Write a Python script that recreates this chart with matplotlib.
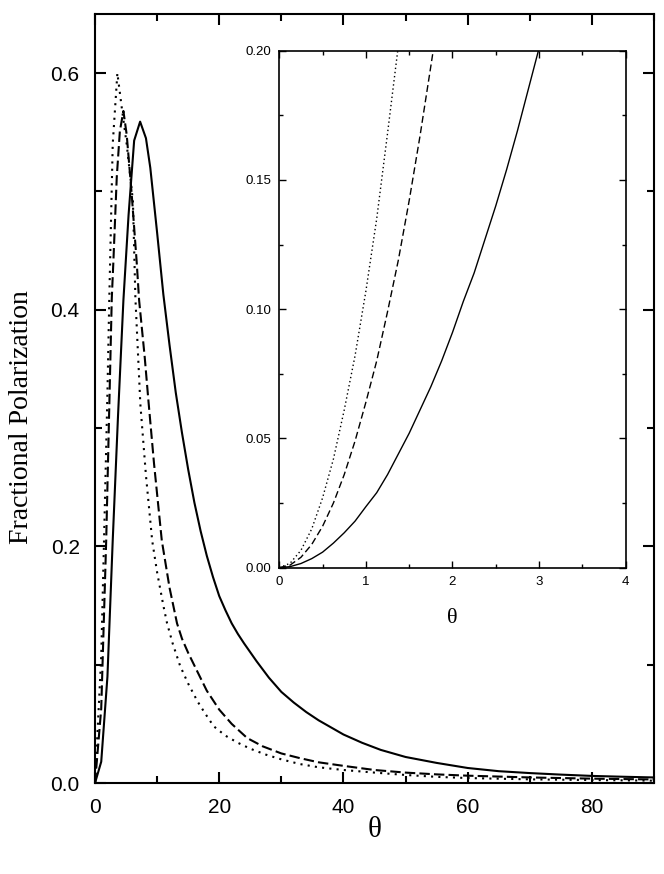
import matplotlib
matplotlib.use("Agg")
import matplotlib.pyplot as plt
from matplotlib.ticker import MultipleLocator

plt.rcParams['font.family'] = ['Liberation Sans', 'DejaVu Sans']

# main panel, curves
solid_theta = [0, 1, 2, 2.85, 3.7, 4.57, 5.4, 6.3, 7.26, 8.2, 8.9, 10, 11, 12, 13, 14, 15, 16,
               17, 18, 19, 20, 21, 22, 23, 24, 26, 28, 30, 32, 34, 36, 38, 40, 43, 46, 50, 55,
               60, 65, 70, 75, 80, 85, 90]
solid_pol = [0, 0.018, 0.09, 0.205, 0.31, 0.408, 0.48, 0.543, 0.559, 0.545, 0.52, 0.465, 0.413,
             0.37, 0.33, 0.296, 0.265, 0.237, 0.213, 0.192, 0.174, 0.158, 0.146, 0.135, 0.126,
             0.118, 0.103, 0.089, 0.077, 0.068, 0.060, 0.053, 0.047, 0.041, 0.034, 0.028, 0.022,
             0.017, 0.0127, 0.010, 0.0084, 0.0071, 0.006, 0.0053, 0.0047]

dash_theta = [0, 1, 1.8, 2.7, 2.95, 3.5, 4.0, 4.57, 5.1, 5.9, 6.7, 7.1, 8.0, 8.6, 9.5, 10.75, 12,
              13.2, 14, 15, 16.4, 18, 20, 22, 24.5, 27, 30, 33, 36, 40, 45, 50, 55, 60, 70, 80, 90]
dash_pol = [0, 0.063, 0.205, 0.41, 0.44, 0.512, 0.551, 0.568, 0.548, 0.498, 0.441, 0.408, 0.36,
            0.323, 0.27, 0.205, 0.165, 0.135, 0.122, 0.110, 0.095, 0.078, 0.062, 0.050, 0.038,
            0.031, 0.025, 0.021, 0.0175, 0.0145, 0.011, 0.0088, 0.0073, 0.0062, 0.0047, 0.0037,
            0.003]

dot_theta = [0, 1, 1.45, 2.0, 2.3, 2.85, 3.6, 4.3, 5.1, 6.1, 6.5, 7.3, 8.2, 9.2, 10, 11, 11.6,
             12.5, 13.7, 15, 16.5, 17.7, 19.1, 21, 23, 25, 27.5, 30, 33, 36, 40, 45, 50, 55, 60,
             70, 80, 90]
dot_pol = [0, 0.107, 0.205, 0.33, 0.41, 0.54, 0.60, 0.571, 0.54, 0.492, 0.41, 0.32, 0.26, 0.205,
           0.178, 0.150, 0.135, 0.118, 0.099, 0.084, 0.069, 0.059, 0.048, 0.040, 0.034, 0.029,
           0.024, 0.020, 0.016, 0.0133, 0.011, 0.0088, 0.0068, 0.0052, 0.0042, 0.0031, 0.0025,
           0.002]

# inset, small angles
in_theta = [0, 0.125, 0.25, 0.375, 0.5, 0.625, 0.75, 0.875, 1.0, 1.125, 1.25, 1.375, 1.5,
            1.625, 1.75, 1.875, 2.0, 2.125, 2.25, 2.375, 2.5, 2.625, 2.75, 2.875, 3.0]
in_solid = [0, 0.0004, 0.0016, 0.0035, 0.006, 0.0095, 0.0135, 0.018, 0.0236, 0.029, 0.036,
            0.044, 0.052, 0.061, 0.070, 0.080, 0.091, 0.103, 0.114, 0.127, 0.140, 0.154, 0.169,
            0.185, 0.201]
in_dash_theta = [0, 0.125, 0.25, 0.375, 0.5, 0.625, 0.75, 0.875, 1.0, 1.125, 1.25, 1.375, 1.5,
                 1.625, 1.75, 1.8]
in_dash = [0, 0.001, 0.004, 0.009, 0.016, 0.025, 0.036, 0.049, 0.064, 0.080, 0.099, 0.119, 0.142,
           0.167, 0.194, 0.205]
in_dot_theta = [0, 0.125, 0.25, 0.375, 0.5, 0.625, 0.75, 0.875, 1.0, 1.125, 1.25, 1.375, 1.4]
in_dot = [0, 0.0017, 0.0067, 0.015, 0.027, 0.042, 0.061, 0.082, 0.107, 0.135, 0.168, 0.202, 0.21]

serif = 'Liberation Serif'

fig = plt.figure(figsize=(6.64, 8.74), dpi=100)
ax = fig.add_axes([0.1431, 0.1041, 0.8419, 0.8799])

ax.plot(solid_theta, solid_pol, color='black', lw=1.5)
ax.plot(dash_theta, dash_pol, color='black', lw=1.5, dashes=(5, 2))
ax.plot(dot_theta, dot_pol, color='black', lw=1.5, dashes=(1, 2.5))

ax.set_xlim(0, 90)
ax.set_ylim(0, 0.65)
ax.xaxis.set_major_locator(MultipleLocator(20))
ax.xaxis.set_minor_locator(MultipleLocator(10))
ax.yaxis.set_major_locator(MultipleLocator(0.2))
ax.yaxis.set_minor_locator(MultipleLocator(0.1))
ax.yaxis.set_major_formatter(plt.FormatStrFormatter('%.1f'))
ax.tick_params(which='both', direction='in', top=True, right=True, width=1.5, labelsize=15)
ax.tick_params(which='major', length=8, pad=11)
ax.tick_params(which='minor', length=5)
for s in ax.spines.values():
    s.set_linewidth(1.5)

ax.set_xlabel('θ', family=serif, fontsize=21, labelpad=0)
fig.text(22 / 664, 1 - 417 / 874, 'Fractional Polarization', family=serif, fontsize=20,
         rotation=90, ha='center', va='center')

# inset
ins = fig.add_axes([0.4206, 0.3505, 0.5217, 0.5915])
ins.plot(in_theta, in_solid, color='black', lw=1.0)
ins.plot(in_dash_theta, in_dash, color='black', lw=1.0, dashes=(5, 2.5))
ins.plot(in_dot_theta, in_dot, color='black', lw=1.0, dashes=(1, 2))
ins.set_xlim(0, 4)
ins.set_ylim(0, 0.2)
ins.xaxis.set_major_locator(MultipleLocator(1))
ins.xaxis.set_minor_locator(MultipleLocator(0.5))
ins.yaxis.set_major_locator(MultipleLocator(0.05))
ins.yaxis.set_minor_locator(MultipleLocator(0.025))
ins.yaxis.set_major_formatter(plt.FormatStrFormatter('%.2f'))
ins.tick_params(which='both', direction='in', top=True, right=True, width=1.0, labelsize=9.5)
ins.tick_params(which='major', length=5, pad=6)
ins.tick_params(which='minor', length=3)
for s in ins.spines.values():
    s.set_linewidth(1.2)
ins.set_xlabel('θ', family=serif, fontsize=16, labelpad=15)

fig.savefig('out.png', dpi=100)
